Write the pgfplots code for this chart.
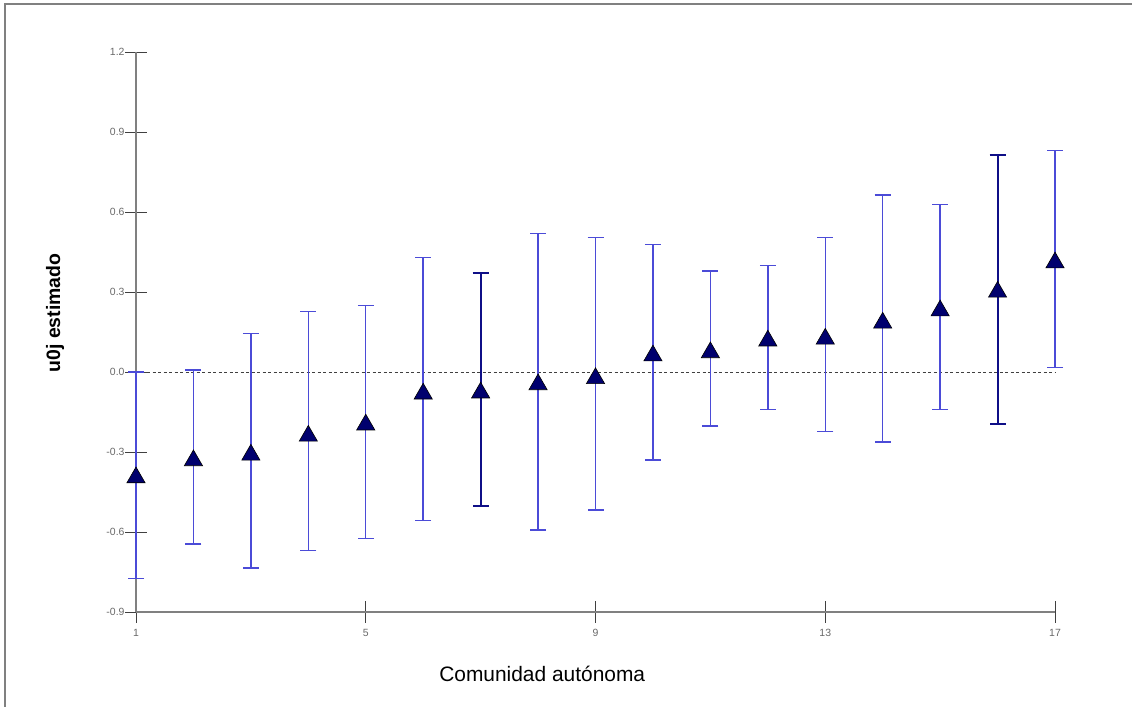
\documentclass[border=0pt]{standalone}
\usepackage{fontspec}
\setmainfont{Liberation Sans}
\usepackage{pgfplots}
\usepackage{pgfplotstable}
\pgfplotsset{compat=1.18}
\definecolor{barblue}{RGB}{75,75,215}
\definecolor{darkbar}{RGB}{15,15,135}
\definecolor{trinavy}{RGB}{0,0,110}
\definecolor{axgray}{RGB}{128,128,128}
\definecolor{lblgray}{RGB}{105,105,105}

\pgfplotstableread{
x y ep em
1 -0.386 0.386 0.389
2 -0.322 0.329 0.323
3 -0.301 0.445 0.434
4 -0.230 0.456 0.439
5 -0.188 0.438 0.436
6 -0.072 0.502 0.484
8 -0.037 0.557 0.556
9 -0.014 0.519 0.504
10 0.071 0.406 0.401
11 0.083 0.295 0.285
12 0.127 0.272 0.268
13 0.134 0.371 0.357
14 0.194 0.469 0.456
15 0.240 0.388 0.381
17 0.420 0.410 0.403
}\lightbars

\pgfplotstableread{
x y ep em
7 -0.068 0.439 0.434
16 0.310 0.503 0.505
}\darkbars

\pgfplotstableread{
x y
1 -0.386
2 -0.322
3 -0.301
4 -0.230
5 -0.188
6 -0.072
7 -0.068
8 -0.037
9 -0.014
10 0.071
11 0.083
12 0.127
13 0.134
14 0.194
15 0.240
16 0.310
17 0.420
}\estimates

\begin{document}
\begin{tikzpicture}[x=1bp,y=1bp]
\useasboundingbox (0,0) rectangle (1132,707);
\draw[axgray, line width=1.2bp] (5,0) -- (5,703) -- (1132,703);
\begin{axis}[
  at={(136bp,95bp)}, anchor=south west,
  scale only axis, width=919bp, height=560bp,
  xmin=1, xmax=17, ymin=-0.9, ymax=1.2,
  axis lines=left,
  axis line style={-, axgray, line width=1.5bp},
  xtick={1,5,9,13,17},
  xticklabels={1,5,9,13,17},
  ytick={-0.9,-0.6,-0.3,0,0.3,0.6,0.9,1.2},
  yticklabels={-0.9,-0.6,-0.3,0.0,0.3,0.6,0.9,1.2},
  tick align=center, major tick length=22bp,
  tick style={black!75, line width=0.8bp},
  tick label style={font=\fontsize{10.5}{12}\selectfont, text=lblgray},
  xticklabel style={yshift=-3bp},
  yticklabel style={xshift=3bp},
  clip=false,
  xlabel={Comunidad autónoma},
  xlabel style={at={(axis description cs:0.442,-0.111)}, anchor=center, font=\fontsize{21}{24}\selectfont},
  ylabel={u0j estimado},
  ylabel style={at={(axis description cs:-0.0881,0.534)}, anchor=center, font=\bfseries\fontsize{19.5}{23}\selectfont},
]
\addplot[black!75, line width=0.8bp, dash pattern=on 3bp off 2.5bp] coordinates {(1,0) (17,0)};
\addplot[draw=none, mark=none,
  error bars/.cd, y dir=both, y explicit,
  error bar style={draw=barblue, line width=1.4bp},
  error mark options={draw=barblue, line width=1.4bp, mark size=8bp, rotate=90}]
  table[x=x, y=y, y error plus=ep, y error minus=em] {\lightbars};
\addplot[draw=none, mark=none,
  error bars/.cd, y dir=both, y explicit,
  error bar style={draw=darkbar, line width=2bp},
  error mark options={draw=darkbar, line width=2bp, mark size=8bp, rotate=90}]
  table[x=x, y=y, y error plus=ep, y error minus=em] {\darkbars};
\addplot[only marks, mark=triangle*, mark size=10.5bp,
  mark options={fill=trinavy, draw=black, line width=0.6bp, yshift=-2.6bp}]
  table[x=x, y=y] {\estimates};
\end{axis}
\end{tikzpicture}
\end{document}
